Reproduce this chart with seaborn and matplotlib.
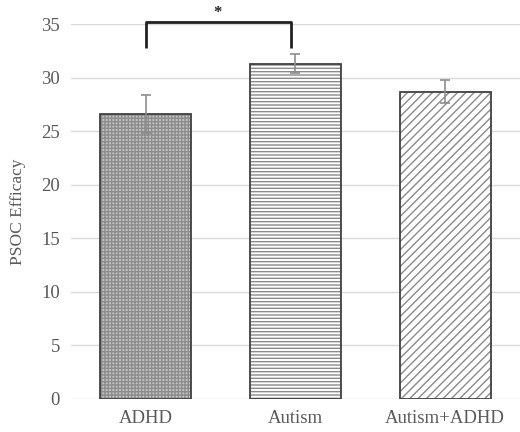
import pandas as pd
import numpy as np
import matplotlib
matplotlib.use("Agg")
import matplotlib.pyplot as plt
import seaborn as sns

groups = ["ADHD", "Autism", "Autism+ADHD"]
efficacy = [26.6, 31.3, 28.7]
err = [1.8, 0.9, 1.1]
yticks = [0, 5, 10, 15, 20, 25, 30, 35]

sns.set_theme(style="white")
plt.rcParams["font.family"] = ["Liberation Serif", "DejaVu Serif"]
plt.rcParams["hatch.linewidth"] = 1.0

df = pd.DataFrame({"group": groups, "efficacy": efficacy})

fig = plt.figure(figsize=(5.2, 4.32), dpi=100)
ax = fig.add_axes([0.1365, 0.0764, 0.8635, 0.868])

# filled bars with hatch (hatch colour = edgecolor), outline drawn after
sns.barplot(data=df, x="group", y="efficacy", width=0.61, errorbar=None,
            color="white", linewidth=0, ax=ax, zorder=2)
fills = [("#c4c4c4", "#8c8c8c", "+++++"),
         ("white", "#8a8a8a", "-----"),
         ("white", "#8a8a8a", "////")]
for bar, (fc, hc, h) in zip(ax.patches, fills):
    bar.set_facecolor(fc)
    bar.set_edgecolor(hc)
    bar.set_hatch(h)
    bar.set_linewidth(0)

sns.barplot(data=df, x="group", y="efficacy", width=0.61, errorbar=None,
            fill=False, edgecolor="#404040", linewidth=1.3, ax=ax, zorder=3)

ax.errorbar(range(len(groups)), efficacy, yerr=err, fmt="none",
            ecolor="#8c8c8c", elinewidth=1.2, capsize=3.5, capthick=1.2, zorder=4)

ax.set_ylim(0, 35)
ax.set_xlim(-0.5, 2.5)
ax.set_yticks(yticks)
ax.yaxis.grid(True, color="#d9d9d9", linewidth=1)
ax.set_axisbelow(True)
sns.despine(ax=ax, left=True, bottom=True)
ax.tick_params(axis="both", length=0, labelsize=13.5, colors="#595959", pad=8)
ax.set_xlabel("")
ax.set_ylabel("PSOC Efficacy", fontsize=12.5, color="#595959", labelpad=11)

# significance bracket
bx = [0, 0, 0.97, 0.97]
by = [32.8, 35.2, 35.2, 32.8]
ax.plot(bx, by, color="#222222", linewidth=2, clip_on=False, zorder=5,
        solid_joinstyle="round", solid_capstyle="butt")
ax.text(0.48, 35.3, "*", ha="center", va="bottom", fontsize=12,
        color="#222222", fontweight="bold")

fig.savefig("out.png", dpi=100)
